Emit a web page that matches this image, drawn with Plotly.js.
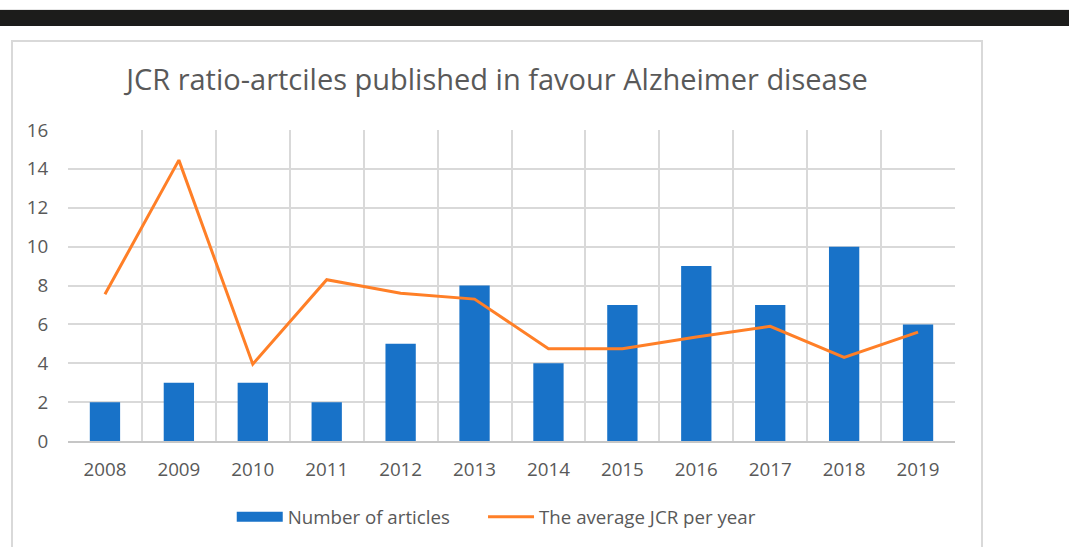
<!DOCTYPE html>
<html>
<head>
<meta charset="utf-8">
<script src="https://cdn.plot.ly/plotly-3.0.1.min.js"></script>
<style>
  html, body { margin: 0; padding: 0; background: #ffffff; }
  #wrap { position: relative; width: 1069px; height: 547px; overflow: hidden; }
  #topline { position: absolute; left: 0; top: 9px; width: 1069px; height: 1px; background: #e6e6e6; }
  #bar { position: absolute; left: 0; top: 10px; width: 1069px; height: 16px; background: #1c1c1b; }
  #card { position: absolute; left: 11px; top: 40px; width: 972px; height: 540px; box-sizing: border-box; border: 2px solid #d9d9d9; background: #ffffff; }
  #chart { position: absolute; left: 0; top: 0; width: 1069px; height: 547px; }
</style>
</head>
<body>
<div id="wrap">
  <div id="topline"></div>
  <div id="bar"></div>
  <div id="card"></div>
  <div id="chart"></div>
</div>
<script>
const years = ["2008", "2009", "2010", "2011", "2012", "2013", "2014", "2015", "2016", "2017", "2018", "2019"];
const numberOfArticles = [2, 3, 3, 2, 5, 8, 4, 7, 9, 7, 10, 6];
const averageJCR = [7.55, 14.45, 3.95, 8.3, 7.6, 7.3, 4.75, 4.75, 5.35, 5.9, 4.3, 5.6];
const seriesNames = ["Number of articles", "The average JCR per year"];
const chartTitle = "JCR ratio-artciles published in favour Alzheimer disease";

const blue = "#1872C8";
const orange = "#FF7F27";
const textColor = "#595959";
const gridColor = "#d9d9d9";
const fontFamily = "'Open Sans', sans-serif";

const traces = [
  {
    type: "bar",
    x: years,
    y: numberOfArticles,
    name: seriesNames[0],
    marker: { color: blue },
    showlegend: false,
    hoverinfo: "x+y"
  },
  {
    type: "scatter",
    mode: "lines",
    x: [null],
    y: [null],
    name: seriesNames[0],
    line: { color: blue, width: 11 },
    legend: "legend",
    hoverinfo: "skip"
  },
  {
    type: "scatter",
    mode: "lines",
    x: years,
    y: averageJCR,
    name: seriesNames[1],
    line: { color: orange, width: 3 },
    legend: "legend2",
    hoverinfo: "x+y"
  }
];

const legendFont = { family: fontFamily, size: 18.7, color: textColor };

const layout = {
  width: 1069,
  height: 547,
  paper_bgcolor: "rgba(0,0,0,0)",
  plot_bgcolor: "rgba(0,0,0,0)",
  margin: { l: 68, r: 114, t: 130, b: 106, pad: 0, autoexpand: false },
  font: { family: fontFamily, color: textColor, size: 18 },
  title: {
    text: chartTitle,
    x: 0.4649,
    xanchor: "center",
    y: 0.854,
    yanchor: "middle",
    font: { family: fontFamily, size: 29, color: textColor }
  },
  bargap: 0.59,
  xaxis: {
    type: "category",
    categoryorder: "array",
    categoryarray: years,
    tickson: "boundaries",
    showgrid: true,
    gridcolor: gridColor,
    gridwidth: 2,
    showline: true,
    linecolor: "#c6c6c6",
    linewidth: 2,
    ticks: "",
    ticklabelstandoff: 10,
    tickfont: { family: fontFamily, size: 18.8, color: textColor },
    fixedrange: true
  },
  yaxis: {
    range: [0, 16],
    dtick: 2,
    tick0: 0,
    showgrid: true,
    gridcolor: gridColor,
    gridwidth: 2,
    zeroline: false,
    showline: false,
    ticks: "outside",
    ticklen: 15,
    tickcolor: "rgba(0,0,0,0)",
    tickfont: { family: fontFamily, size: 18.8, color: textColor },
    fixedrange: true
  },
  legend: {
    orientation: "h",
    x: 0.1846,
    xanchor: "left",
    y: -0.245,
    yanchor: "middle",
    font: legendFont,
    itemwidth: 46,
    bgcolor: "rgba(0,0,0,0)"
  },
  legend2: {
    orientation: "h",
    x: 0.4679,
    xanchor: "left",
    y: -0.245,
    yanchor: "middle",
    font: legendFont,
    itemwidth: 46,
    bgcolor: "rgba(0,0,0,0)"
  },
  showlegend: true
};

Plotly.newPlot("chart", traces, layout, { displayModeBar: false, staticPlot: true });
</script>
</body>
</html>
